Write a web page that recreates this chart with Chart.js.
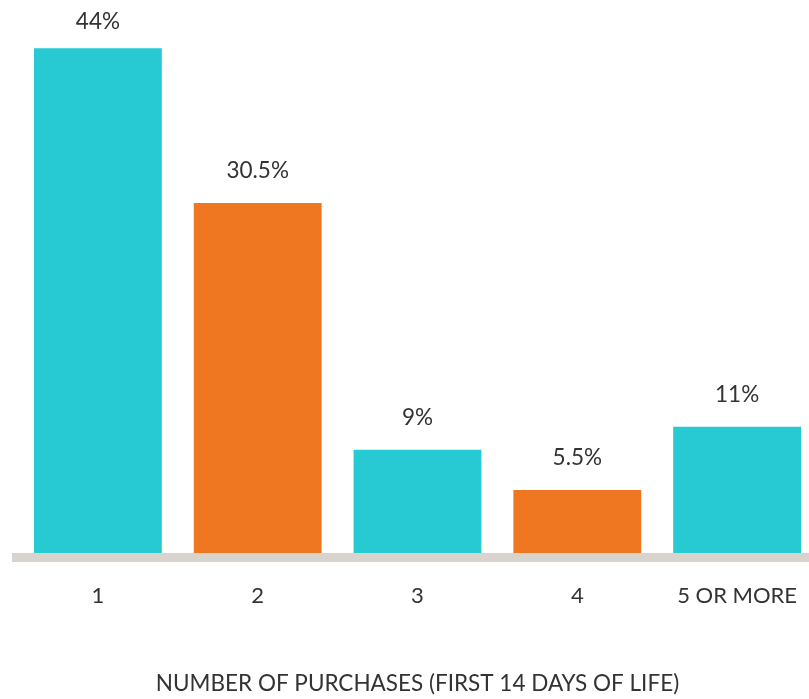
<!DOCTYPE html>
<html>
<head>
<meta charset="utf-8">
<script src="https://cdn.jsdelivr.net/npm/chart.js@4"></script>
<style>
  html, body { margin: 0; padding: 0; background: #fff; overflow: hidden; }
  #purchases { position: absolute; left: 0; top: 0; }
</style>
</head>
<body>
<canvas id="purchases" width="817" height="699"></canvas>
<script>
// values
var categories = ['1', '2', '3', '4', '5 OR MORE'];
var shares = [44, 30.5, 9, 5.5, 11];
var valueLabels = ['44%', '30.5%', '9%', '5.5%', '11%'];
var barColours = ['#27cad3', '#ef7721', '#27cad3', '#ef7721', '#27cad3'];
var axisTitle = 'NUMBER OF PURCHASES (FIRST 14 DAYS OF LIFE)';

var textColour = '#333333';
var fontFamily = "Lato, 'Open Sans', sans-serif";

// grey floor under the bars + percentage text above each bar
var decorations = {
  id: 'decorations',
  afterDatasetsDraw: function(chart) {
    var ctx = chart.ctx;
    var x = chart.scales.x;
    ctx.save();
    ctx.fillStyle = '#d9d3cd';
    ctx.fillRect(12, x.top, chart.width, 9);
    ctx.fillStyle = textColour;
    ctx.font = '22.5px ' + fontFamily;
    ctx.textAlign = 'center';
    ctx.textBaseline = 'middle';
    chart.getDatasetMeta(0).data.forEach(function(bar, i) {
      var y = Math.max(bar.y - 32, 22);
      ctx.fillText(valueLabels[i], bar.x, y);
    });
    ctx.restore();
  }
};

new Chart(document.getElementById('purchases'), {
  type: 'bar',
  data: {
    labels: categories,
    datasets: [{
      data: shares,
      backgroundColor: barColours,
      borderWidth: 0,
      barPercentage: 1,
      categoryPercentage: 0.8
    }]
  },
  options: {
    responsive: false,
    animation: false,
    layout: { padding: { left: 18, right: 0, top: 0, bottom: 0 } },
    plugins: { legend: { display: false }, tooltip: { enabled: false } },
    scales: {
      y: { display: false, min: 0, max: 48.2 },
      x: {
        afterFit: function(scale) {
          scale.height = 146;
          // tick padding otherwise eats into the right edge
          scale.paddingLeft = 0;
          scale.paddingRight = 0;
        },
        grid: { display: false, drawTicks: false },
        border: { display: false },
        ticks: { color: textColour, padding: 30, font: { family: fontFamily, size: 22 } },
        title: {
          display: true,
          text: axisTitle,
          color: textColour,
          padding: { top: 0, bottom: 2 },
          font: { family: fontFamily, size: 22.5 }
        }
      }
    }
  },
  plugins: [decorations]
});
</script>
</body>
</html>
